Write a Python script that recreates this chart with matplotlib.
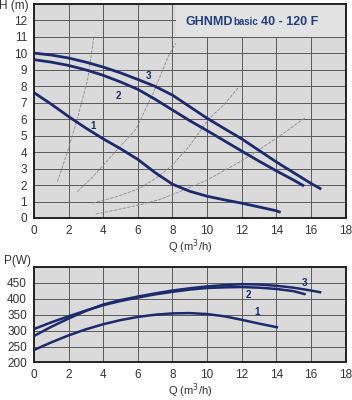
import matplotlib

matplotlib.use("Agg")
import matplotlib.pyplot as plt
from matplotlib.patches import Rectangle
from matplotlib.transforms import offset_copy

plt.rcParams["font.family"] = ["Liberation Sans", "DejaVu Sans"]

# head curves H(Q), one per speed
q_h1 = [0, 1, 2, 3, 4, 5, 6, 7, 8, 9, 10, 11, 12, 13, 14, 14.25]
h1 = [7.6, 6.9, 6.15, 5.45, 4.8, 4.2, 3.55, 2.75, 2.05, 1.62, 1.32, 1.1, 0.9, 0.67, 0.44, 0.34]
q_h2 = [0, 1, 2, 3, 4, 5, 6, 7, 8, 9, 10, 11, 12, 13, 14, 15, 15.6]
h2 = [9.6, 9.45, 9.25, 8.98, 8.65, 8.25, 7.8, 7.2, 6.55, 5.9, 5.3, 4.68, 4.06, 3.45, 2.86, 2.3, 1.94]
q_h3 = [0, 1, 2, 3, 4, 5, 6, 7, 8, 9, 10, 11, 12, 13, 14, 15, 16, 16.6]
h3 = [10.0, 9.88, 9.7, 9.45, 9.15, 8.8, 8.4, 7.98, 7.45, 6.75, 6.05, 5.42, 4.8, 4.1, 3.4, 2.75, 2.1, 1.75]

# system curves (thin grey)
sys_q = [
    [1.35, 1.9, 2.5, 3.1, 3.47],
    [2.5, 3.4, 4.34, 5.2, 5.9, 6.9, 7.8, 8.2],
    [3.38, 4.8, 6.1, 7.1, 8.0, 9.0, 10.1, 11.0, 11.8],
    [3.57, 4.8, 6.1, 7.2, 8.2, 10.0, 12.06, 14.1, 15.7],
]
sys_h = [
    [2.2, 3.9, 6.0, 8.4, 11.05],
    [1.6, 2.5, 3.6, 4.6, 5.4, 7.6, 9.9, 10.6],
    [0.9, 1.3, 1.8, 2.45, 3.2, 4.4, 6.0, 6.9, 7.9],
    [0.24, 0.5, 0.8, 1.1, 1.5, 2.3, 3.5, 4.9, 6.1],
]

# power curves P(Q)
q_p1 = [0, 1, 2, 3, 4, 5, 6, 7, 8, 9, 10, 11, 12, 13, 14, 14.1]
p1 = [239, 263, 285, 304, 320, 333, 343, 350, 354, 355, 352, 345, 334, 322, 311, 310]
q_p2 = [0, 1, 2, 3, 4, 5, 6, 7, 8, 9, 10, 11, 12, 13, 14, 15, 15.7]
p2 = [305, 326, 345, 363, 380, 393, 404, 414, 422, 429, 434, 436, 437, 435, 431, 424, 414]
q_p3 = [0, 1, 2, 3, 4, 5, 6, 7, 8, 9, 10, 11, 12, 13, 14, 15, 16, 16.6]
p3 = [283, 312, 338, 362, 382, 396, 407, 417, 426, 433, 439, 443, 446, 445, 441, 435, 426, 420]

h_labels = {"1": (3.4, 5.6), "2": (4.9, 7.4), "3": (6.6, 8.6)}
p_labels = {"1": (12.9, 358), "2": (12.4, 412), "3": (15.6, 450)}

line_color = "#1c2a6e"
title_color = "#22407e"
grid_color = "#5a5a5a"
bg = "#dadada"

fig = plt.figure(figsize=(3.52, 4.0), dpi=100)
ax_h = fig.add_axes([0.0966, 0.455, 0.885, 0.536])
ax_p = fig.add_axes([0.0966, 0.094, 0.885, 0.2385])

for ax in (ax_h, ax_p):
    ax.set_facecolor(bg)
    ax.set_xlim(0, 18)
    ax.set_xticks(range(0, 19, 2))
    ax.grid(True, color=grid_color, lw=0.7)
    ax.set_axisbelow(True)
    ax.tick_params(length=0, labelsize=8.5, colors="#333333", pad=5)
    for s in ax.spines.values():
        s.set_color("#222222")
        s.set_linewidth(1.4)
    ax.set_xlabel("Q (m$^3$/h)", fontsize=8, color="#333333", labelpad=0)

# head chart
ax_h.set_ylim(0, 13)
ax_h.set_yticks(range(0, 14))
ax_h.set_yticklabels([str(v) for v in range(13)] + [""])
for qs, hs in zip(sys_q, sys_h):
    ax_h.plot(qs, hs, color="#8a8a8a", lw=0.6, ls=(0, (4, 1.5)), zorder=2)
for qs, hs in ((q_h1, h1), (q_h2, h2), (q_h3, h3)):
    ax_h.plot(qs, hs, color=line_color, lw=2.0, solid_capstyle="butt", zorder=3)
for k, (x, y) in h_labels.items():
    ax_h.text(x, y, k, color=line_color, fontsize=7, fontweight="bold", ha="center", va="center")

ax_h.add_patch(Rectangle((8.2, 11.0), 9.8, 2.0, facecolor="#e2e2e2", edgecolor="none", zorder=2.5))
ax_h.text(-0.3, 12.85, "H (m)", fontsize=8.5, color="#333333", ha="right", va="center")

# title pieces laid out one after another on a shared baseline
renderer = fig.canvas.get_renderer()
pieces = [("GHNMD", 9, 0), ("basic", 7, 0.5), ("40 - 120 F", 9, 3)]
x_px = 0
for s, size, gap in pieces:
    tr = offset_copy(ax_h.transData, fig=fig, x=x_px + gap, y=0, units="dots")
    t = ax_h.text(8.74, 11.72, s, color=title_color, fontsize=size, fontweight="bold",
                  ha="left", va="baseline", transform=tr, zorder=4)
    x_px += gap + t.get_window_extent(renderer).width

# power chart
ax_p.set_ylim(200, 500)
ax_p.set_yticks(range(200, 501, 50))
ax_p.set_yticklabels([str(v) for v in range(200, 451, 50)] + [""])
for qs, ps in ((q_p1, p1), (q_p2, p2), (q_p3, p3)):
    ax_p.plot(qs, ps, color=line_color, lw=1.8, solid_capstyle="butt", zorder=3)
for k, (x, y) in p_labels.items():
    ax_p.text(x, y, k, color=line_color, fontsize=7, fontweight="bold", ha="center", va="center")
ax_p.text(-0.2, 518, "P(W)", fontsize=8.5, color="#333333", ha="right", va="center")

fig.savefig("out.png", dpi=100)
